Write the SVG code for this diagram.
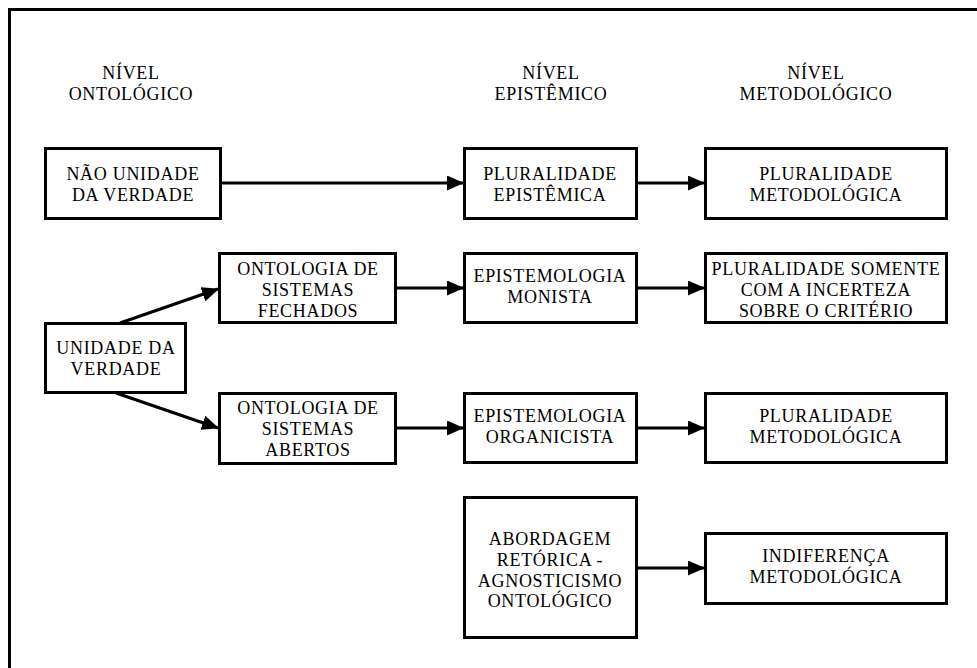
<svg xmlns="http://www.w3.org/2000/svg" width="977" height="668" viewBox="0 0 977 668">
<style>
.box{fill:#fff;stroke:#000;stroke-width:3}
.t{font-family:"Liberation Serif","Times New Roman",serif;font-size:18px;letter-spacing:0.7px;text-anchor:middle;fill:#000}
.c{stroke:#000;stroke-width:3;fill:none;marker-end:url(#ah)}
</style>
<defs>
<marker id="ah" markerWidth="17" markerHeight="15" refX="16" refY="7.5" orient="auto" markerUnits="userSpaceOnUse">
<path d="M0,0 L17,7.5 L0,15 Z" fill="#000"/>
</marker>
</defs>
<rect x="0" y="0" width="977" height="668" fill="#fff"/>
<path d="M9.5,668 V9.5 H977" fill="none" stroke="#000" stroke-width="3"/>
<g id="headers">
<text class="t" x="131" y="79">NÍVEL</text>
<text class="t" x="131" y="100">ONTOLÓGICO</text>
<text class="t" x="551" y="79">NÍVEL</text>
<text class="t" x="551" y="100">EPISTÊMICO</text>
<text class="t" x="816" y="79">NÍVEL</text>
<text class="t" x="816" y="100">METODOLÓGICO</text>
</g>
<g id="connectors">
<line class="c" x1="221" y1="183" x2="463" y2="183"/>
<line class="c" x1="637" y1="183" x2="704" y2="183"/>
<line class="c" x1="120" y1="323" x2="218" y2="289"/>
<line class="c" x1="116" y1="393" x2="218" y2="428"/>
<line class="c" x1="396" y1="288" x2="463" y2="288"/>
<line class="c" x1="637" y1="288" x2="704" y2="288"/>
<line class="c" x1="396" y1="428" x2="463" y2="428"/>
<line class="c" x1="637" y1="428" x2="704" y2="428"/>
<line class="c" x1="637" y1="568" x2="704" y2="568"/>
</g>
<g id="nao-unidade">
<rect class="box" x="45.5" y="148.5" width="175" height="70"/>
<text class="t" x="133" y="180">NÃO UNIDADE</text>
<text class="t" x="133" y="201">DA VERDADE</text>
</g>
<g id="pluralidade-epistemica">
<rect class="box" x="464.5" y="148.5" width="172" height="70"/>
<text class="t" x="550" y="180">PLURALIDADE</text>
<text class="t" x="550" y="201">EPISTÊMICA</text>
</g>
<g id="pluralidade-metodologica-1">
<rect class="box" x="705.5" y="148.5" width="241" height="70"/>
<text class="t" x="826" y="180">PLURALIDADE</text>
<text class="t" x="826" y="201">METODOLÓGICA</text>
</g>
<g id="ontologia-fechados">
<rect class="box" x="219.5" y="253.5" width="176" height="69"/>
<text class="t" x="308" y="275">ONTOLOGIA DE</text>
<text class="t" x="308" y="296">SISTEMAS</text>
<text class="t" x="308" y="317">FECHADOS</text>
</g>
<g id="epistemologia-monista">
<rect class="box" x="464.5" y="253.5" width="172" height="69"/>
<text class="t" x="550" y="282">EPISTEMOLOGIA</text>
<text class="t" x="550" y="303">MONISTA</text>
</g>
<g id="pluralidade-somente">
<rect class="box" x="705.5" y="253.5" width="241" height="69"/>
<text class="t" x="826" y="275">PLURALIDADE SOMENTE</text>
<text class="t" x="826" y="296">COM A INCERTEZA</text>
<text class="t" x="826" y="317">SOBRE O CRITÉRIO</text>
</g>
<g id="unidade-verdade">
<rect class="box" x="45.5" y="323.5" width="140" height="69"/>
<text class="t" x="116" y="354">UNIDADE DA</text>
<text class="t" x="116" y="375">VERDADE</text>
</g>
<g id="ontologia-abertos">
<rect class="box" x="219.5" y="393.5" width="176" height="70"/>
<text class="t" x="308" y="414">ONTOLOGIA DE</text>
<text class="t" x="308" y="435">SISTEMAS</text>
<text class="t" x="308" y="456">ABERTOS</text>
</g>
<g id="epistemologia-organicista">
<rect class="box" x="464.5" y="393.5" width="172" height="69"/>
<text class="t" x="550" y="422">EPISTEMOLOGIA</text>
<text class="t" x="550" y="443">ORGANICISTA</text>
</g>
<g id="pluralidade-metodologica-2">
<rect class="box" x="705.5" y="393.5" width="241" height="69"/>
<text class="t" x="826" y="422">PLURALIDADE</text>
<text class="t" x="826" y="443">METODOLÓGICA</text>
</g>
<g id="abordagem-retorica">
<rect class="box" x="464.5" y="497.5" width="172" height="140"/>
<text class="t" x="550" y="545">ABORDAGEM</text>
<text class="t" x="550" y="566">RETÓRICA -</text>
<text class="t" x="550" y="587">AGNOSTICISMO</text>
<text class="t" x="550" y="607">ONTOLÓGICO</text>
</g>
<g id="indiferenca-metodologica">
<rect class="box" x="705.5" y="533.5" width="241" height="70"/>
<text class="t" x="826" y="562">INDIFERENÇA</text>
<text class="t" x="826" y="583">METODOLÓGICA</text>
</g>
</svg>
